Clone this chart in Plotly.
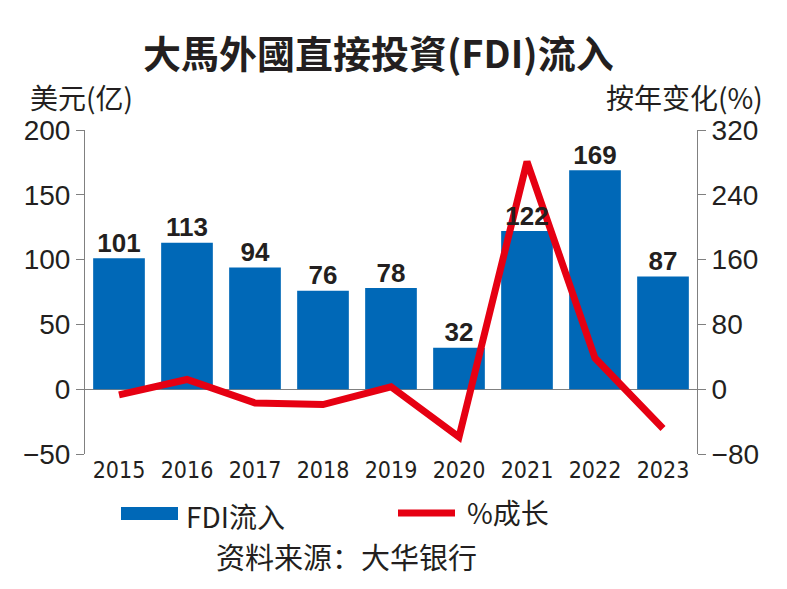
import plotly.graph_objects as go

years = ["2015", "2016", "2017", "2018", "2019", "2020", "2021", "2022", "2023"]
fdi = [101, 113, 94, 76, 78, 32, 122, 169, 87]
growth = [-7, 12, -17, -19, 3, -59, 281, 38.5, -48.5]
left_ticks = [-50, 0, 50, 100, 150, 200]
right_ticks = [-80, 0, 80, 160, 240, 320]

BLUE = "#0068b7"
RED = "#e60012"
TXT = "#231f20"
AX = "#808080"
CJK = "Noto Sans CJK SC, Noto Sans, sans-serif"
NUM = "Liberation Sans, Arial, sans-serif"
NARROW = "Liberation Sans Narrow, DejaVu Sans Condensed, Liberation Sans, sans-serif"

LEFT_RANGE = [-50, 200]
RIGHT_RANGE = [-80, 320]
SCALE = (RIGHT_RANGE[1] - RIGHT_RANGE[0]) / (LEFT_RANGE[1] - LEFT_RANGE[0])

# page has an 8px body margin; figure is sized so plot lands on the page grid
W, H = 779, 581
L, R, T, B = 77, 90, 122, 135


def px_x(x):
    return (x - 8 - L) / (W - L - R)


def px_y(y):
    return (H - B - (y - 8)) / (H - T - B)


fig = go.Figure()
fig.add_trace(go.Bar(
    x=years, y=fdi, marker=dict(color=BLUE, line=dict(width=0)),
    name="FDI流入", showlegend=False, hoverinfo="x+y",
))
fig.add_trace(go.Scatter(
    x=years, y=growth, yaxis="y2", mode="lines",
    line=dict(color=RED, width=7), name="%成长", showlegend=False,
))
# value labels drawn on the overlay axis (same scale as bars) so they sit above the line
fig.add_trace(go.Scatter(
    x=years, y=[v * SCALE + (RIGHT_RANGE[0] - LEFT_RANGE[0] * SCALE) for v in fdi],
    yaxis="y2", mode="text", text=[str(v) for v in fdi],
    textposition="top center", cliponaxis=False,
    textfont=dict(family=NUM, size=26, color=TXT, weight="bold"),
    showlegend=False, hoverinfo="skip",
))

fig.update_layout(
    width=W, height=H,
    margin=dict(l=L, r=R, t=T, b=B),
    paper_bgcolor="white", plot_bgcolor="white",
    bargap=0.24,
    xaxis=dict(
        type="category", showgrid=False, showline=False, ticks="",
        tickfont=dict(family=NARROW, size=23, color=TXT), zeroline=False,
        range=[-0.5, 8.5],
    ),
    yaxis=dict(
        range=LEFT_RANGE, tickvals=left_ticks, showgrid=False,
        showline=True, linecolor=AX, linewidth=1,
        ticks="outside", ticklen=8, tickcolor=AX,
        tickfont=dict(family=NUM, size=28, color=TXT),
        zeroline=True, zerolinecolor=AX, zerolinewidth=1,
    ),
    yaxis2=dict(
        range=RIGHT_RANGE, tickvals=right_ticks, overlaying="y", side="right",
        showgrid=False, showline=True, linecolor=AX, linewidth=1,
        ticks="outside", ticklen=8, tickcolor=AX,
        tickfont=dict(family=NUM, size=28, color=TXT),
        zeroline=False,
    ),
    font=dict(family=CJK, color=TXT),
)

texts = [
    ("<b>大馬外國直接投資(FDI)流入</b>", 378, 51, "center", 38),
    ("美元(亿)", 28, 97, "left", 28),
    ("按年变化(%)", 765, 97, "right", 28),
    ("FDI流入", 184, 516, "left", 28),
    ("%成长", 465, 512, "left", 28),
    ("资料来源：大华银行", 346, 556, "center", 29),
]
anns = []
for t, x, y, xa, s in texts:
    anns.append(dict(text=t, x=px_x(x), y=px_y(y), xref="paper", yref="paper",
                     xanchor=xa, yanchor="middle", showarrow=False,
                     font=dict(family=CJK, size=s, color=TXT)))
fig.update_layout(annotations=anns)

fig.add_shape(type="rect", xref="paper", yref="paper",
              x0=px_x(121), x1=px_x(178), y0=px_y(520), y1=px_y(507),
              fillcolor=BLUE, line=dict(width=0))
fig.add_shape(type="line", xref="paper", yref="paper",
              x0=px_x(398), x1=px_x(455), y0=px_y(513), y1=px_y(513),
              line=dict(color=RED, width=7))

fig.write_html("out.html")
